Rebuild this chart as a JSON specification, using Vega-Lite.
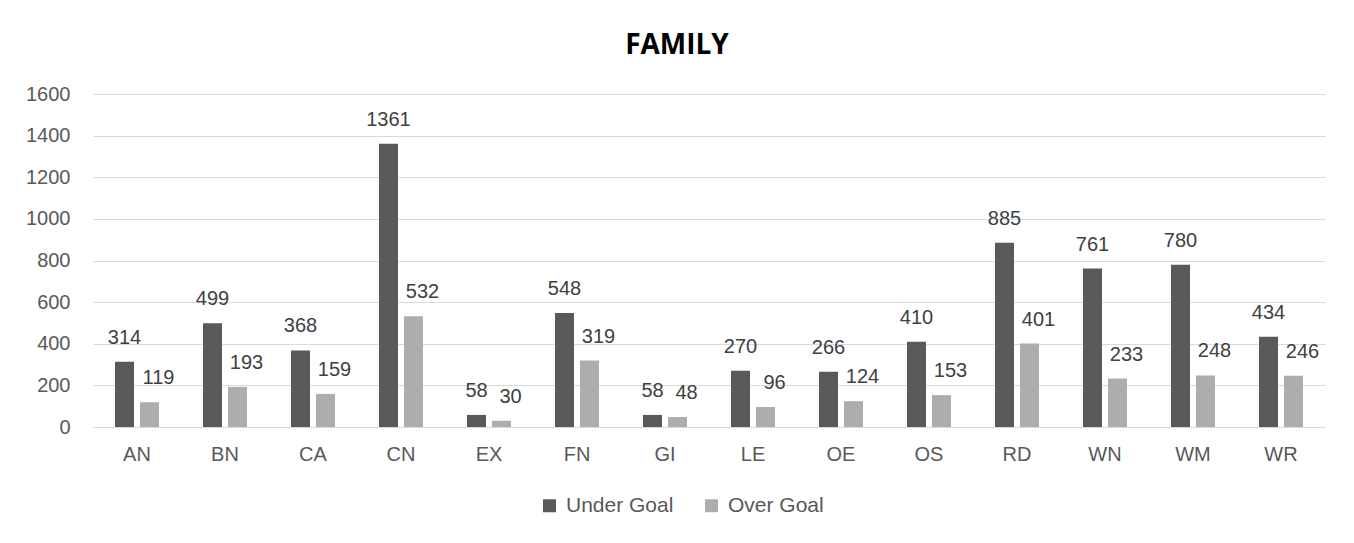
{
  "$schema": "https://vega.github.io/schema/vega-lite/v6.json",
  "autosize": {"type": "none"},
  "width": 1232,
  "height": 333,
  "padding": {"left": 93, "top": 94, "right": 29, "bottom": 116},
  "background": "white",
  "title": {
    "text": "FAMILY",
    "font": "Open Sans",
    "fontSize": 28,
    "fontWeight": "bold",
    "color": "#000000",
    "anchor": "middle",
    "frame": "group",
    "dx": -32,
    "offset": 24
  },
  "data": {
    "values": [
      {"cat": "AN", "series": "Under Goal", "value": 314},
      {"cat": "AN", "series": "Over Goal", "value": 119},
      {"cat": "BN", "series": "Under Goal", "value": 499},
      {"cat": "BN", "series": "Over Goal", "value": 193},
      {"cat": "CA", "series": "Under Goal", "value": 368},
      {"cat": "CA", "series": "Over Goal", "value": 159},
      {"cat": "CN", "series": "Under Goal", "value": 1361},
      {"cat": "CN", "series": "Over Goal", "value": 532},
      {"cat": "EX", "series": "Under Goal", "value": 58},
      {"cat": "EX", "series": "Over Goal", "value": 30},
      {"cat": "FN", "series": "Under Goal", "value": 548},
      {"cat": "FN", "series": "Over Goal", "value": 319},
      {"cat": "GI", "series": "Under Goal", "value": 58},
      {"cat": "GI", "series": "Over Goal", "value": 48},
      {"cat": "LE", "series": "Under Goal", "value": 270},
      {"cat": "LE", "series": "Over Goal", "value": 96},
      {"cat": "OE", "series": "Under Goal", "value": 266},
      {"cat": "OE", "series": "Over Goal", "value": 124},
      {"cat": "OS", "series": "Under Goal", "value": 410},
      {"cat": "OS", "series": "Over Goal", "value": 153},
      {"cat": "RD", "series": "Under Goal", "value": 885},
      {"cat": "RD", "series": "Over Goal", "value": 401},
      {"cat": "WN", "series": "Under Goal", "value": 761},
      {"cat": "WN", "series": "Over Goal", "value": 233},
      {"cat": "WM", "series": "Under Goal", "value": 780},
      {"cat": "WM", "series": "Over Goal", "value": 248},
      {"cat": "WR", "series": "Under Goal", "value": 434},
      {"cat": "WR", "series": "Over Goal", "value": 246}
    ]
  },
  "encoding": {
    "x": {
      "field": "cat",
      "type": "nominal",
      "sort": null,
      "scale": {"paddingInner": 0.5, "paddingOuter": 0.25},
      "axis": {
        "title": null,
        "labelAngle": 0,
        "ticks": false,
        "domain": true,
        "domainColor": "#d9d9d9",
        "domainWidth": 1,
        "labelFont": "Liberation Sans",
        "labelFontSize": 20,
        "labelColor": "#595959",
        "labelPadding": 17
      }
    },
    "xOffset": {
      "field": "series",
      "type": "nominal",
      "sort": ["Under Goal", "Over Goal"],
      "scale": {"paddingInner": 0.24, "paddingOuter": 0}
    },
    "y": {
      "field": "value",
      "type": "quantitative",
      "scale": {"domain": [0, 1600], "nice": false},
      "axis": {
        "title": null,
        "values": [0, 200, 400, 600, 800, 1000, 1200, 1400, 1600],
        "format": "d",
        "domain": false,
        "ticks": false,
        "grid": true,
        "gridColor": "#d9d9d9",
        "gridWidth": 1,
        "labelFont": "Liberation Sans",
        "labelFontSize": 20,
        "labelColor": "#595959",
        "labelPadding": 23
      }
    }
  },
  "layer": [
    {
      "mark": {"type": "bar"},
      "encoding": {
        "color": {
          "field": "series",
          "type": "nominal",
          "scale": {"domain": ["Under Goal", "Over Goal"], "range": ["#595959", "#ADADAD"]},
          "legend": {
            "title": null,
            "orient": "none",
            "direction": "horizontal",
            "legendX": 446,
            "legendY": 401,
            "symbolType": "square",
            "symbolSize": 169,
            "symbolStrokeWidth": 0,
            "labelFont": "Liberation Sans",
            "labelFontSize": 21,
            "labelColor": "#595959",
            "labelOffset": 6,
            "columnPadding": 27
          }
        }
      }
    },
    {
      "transform": [{"filter": "datum.series === 'Under Goal'"}],
      "mark": {"type": "text", "font": "Liberation Sans", "fontSize": 20, "color": "#404040", "baseline": "middle", "dy": -24},
      "encoding": {"text": {"field": "value", "type": "quantitative"}}
    },
    {
      "transform": [{"filter": "datum.series === 'Over Goal'"}],
      "mark": {"type": "text", "font": "Liberation Sans", "fontSize": 20, "color": "#404040", "baseline": "middle", "dy": -24, "dx": 9},
      "encoding": {"text": {"field": "value", "type": "quantitative"}}
    }
  ],
  "config": {
    "view": {"stroke": null}
  }
}
